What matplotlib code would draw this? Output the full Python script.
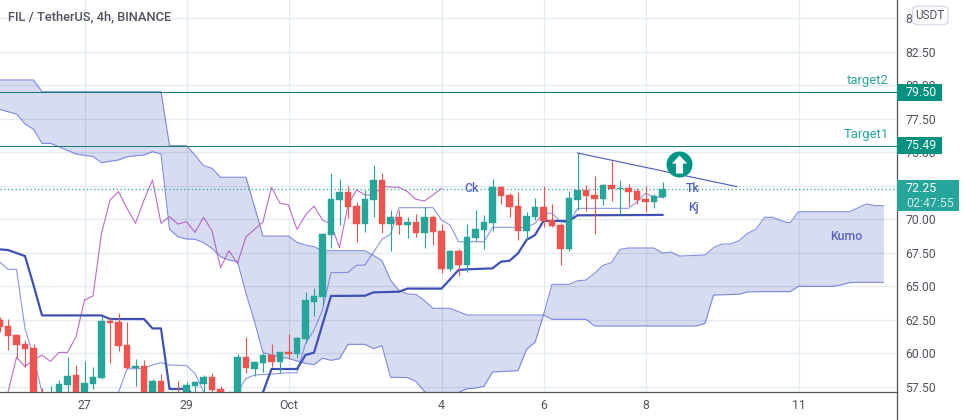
import numpy as np
from matplotlib import pyplot as plt
from matplotlib.patches import FancyBboxPatch, Rectangle
from matplotlib.lines import Line2D

plt.rcParams['font.family'] = ['Roboto', 'DejaVu Sans']

W, H = 964, 420
AX_R, AX_B = 896.5, 392.3

# candles, bar index 0 is the 27th, one bar is 4h
first_bar = -10
opens = [62.47, 62.03, 61.36, 60.68, 60.39, 56.9, 56.2, 56.8, 57.62, 58.37, 56.9, 57.70, 58.15, 62.40, 62.33, 60.61,
         58.89, 59.04, 56.7, 57.92, 56.8, 57.0, 56.7, 57.55, 57.70, 58.22, 57.33, 56.7, 57.0, 59.71, 58.82, 59.27,
         59.86, 59.34, 60.09, 59.94, 61.06, 63.82, 64.19, 68.82, 71.43, 72.03, 70.98, 69.64, 71.43, 72.92, 69.64, 70.16,
         69.57, 69.79, 68.97, 70.16, 69.12, 66.28, 67.63, 66.58, 68.60, 69.19, 69.72, 72.40, 71.81, 70.98, 69.12, 70.16,
         70.91, 69.94, 69.57, 67.78, 71.44, 72.18, 71.81, 71.51, 72.56, 72.26, 72.33, 72.11, 71.51, 71.29, 71.66]
highs = [62.7, 62.52, 61.43, 60.98, 60.68, 57.38, 57.55, 58.0, 59.69, 59.12, 59.42, 58.97, 62.77, 62.67, 63.0, 62.33,
         59.56, 59.49, 58.07, 58.44, 57.0, 57.92, 57.85, 57.92, 58.37, 58.52, 57.55, 57.18, 59.94, 61.21, 59.42, 60.01,
         60.68, 60.09, 61.43, 61.21, 64.56, 64.86, 68.97, 73.45, 73.0, 72.48, 71.28, 72.18, 74.04, 73.45, 70.69, 70.69,
         70.16, 70.39, 70.91, 70.31, 69.64, 67.70, 67.78, 69.64, 70.69, 70.31, 73.0, 72.48, 71.95, 72.03, 70.54, 71.58,
         72.48, 71.13, 69.72, 72.11, 74.92, 72.56, 73.23, 72.63, 74.37, 72.93, 72.63, 72.33, 72.48, 71.88, 72.78]
lows = [61.6, 60.24, 59.61, 58.99, 56.2, 56.3, 56.0, 56.5, 56.9, 56.6, 56.7, 57.33, 58.07, 59.27, 60.16, 58.82,
        57.55, 56.6, 56.5, 56.5, 56.0, 56.0, 56.3, 56.9, 56.9, 56.9, 56.5, 56.4, 56.8, 58.52, 58.30, 58.59,
        58.97, 58.52, 59.56, 59.64, 60.73, 62.77, 63.52, 67.88, 69.57, 70.09, 68.30, 69.04, 70.16, 68.97, 67.63, 68.90,
        68.60, 68.67, 67.85, 68.07, 65.98, 66.1, 65.76, 66.06, 68.37, 67.78, 69.12, 71.13, 70.16, 68.45, 68.52, 69.94,
        69.42, 69.42, 66.58, 67.66, 70.69, 70.62, 68.90, 71.06, 71.36, 70.39, 70.99, 71.14, 70.54, 70.84, 71.59]
closes = [61.98, 61.28, 60.61, 60.31, 56.5, 56.5, 56.9, 57.70, 58.30, 56.9, 57.77, 58.22, 62.40, 62.25, 60.53, 58.89,
          59.04, 56.9, 57.92, 56.8, 56.2, 56.4, 57.62, 57.85, 58.22, 57.25, 56.9, 57.0, 59.71, 58.89, 59.34, 59.86,
          59.34, 60.09, 59.94, 61.13, 63.97, 64.27, 68.89, 71.51, 72.03, 70.91, 69.64, 71.51, 72.92, 69.64, 70.16, 69.57,
          69.79, 68.97, 70.16, 69.04, 66.28, 67.63, 66.58, 68.67, 69.27, 69.79, 72.40, 71.73, 70.91, 69.12, 70.24, 70.91,
          69.87, 69.49, 67.78, 71.59, 72.18, 71.73, 71.51, 72.56, 72.26, 72.30, 72.03, 71.44, 71.29, 71.73, 72.25]

kijun_x = [-10, -9, -7, -6, -5, 2, 3, 7, 8, 9, 10, 12, 13, 20, 21, 22, 25, 26, 27, 29, 33, 34, 37, 38, 42, 43, 44, 45,
           48, 49, 50, 51, 52, 53, 54, 57, 58, 68]
kijun = [67.75, 67.70, 67.25, 65.09, 62.82, 62.82, 62.55, 62.55, 61.85, 61.85, 57.33, 57.33, 56.8, 56.8, 57.08, 58.82,
         58.82, 59.87, 60.04, 64.27, 64.29, 64.54, 64.59, 64.82, 64.82, 65.51, 66.21, 66.26,
         66.33, 66.83, 66.90, 67.45, 68.45, 68.82, 69.87, 69.87, 70.29, 70.32]

tenkan_x = [-10, -9, -8, -7, -6, -5, -4, 3, 4, 5, 7, 8, 9, 10, 12, 13, 14, 15, 17, 18, 19, 20, 22, 24, 25, 26, 27, 28, 29,
            31, 32, 33, 35, 36, 37, 41, 42, 43, 44, 47, 48, 52, 53, 54, 55, 56, 57, 58, 64, 65, 66, 67, 68]
tenkan = [66.83, 66.26, 66.26, 61.85, 59.74, 57.08, 56.5, 56.5, 57.08, 58.82, 58.87, 59.12, 59.29, 59.12, 59.07, 58.50,
          57.13, 56.5, 56.5, 57.08, 58.12, 58.37, 58.44, 58.54, 58.54, 60.73, 61.73, 63.22, 66.01,
          66.03, 66.56, 66.58, 68.50, 68.87, 70.86, 70.86, 69.94, 69.57, 68.32, 68.32, 69.39, 69.39, 69.69, 70.44, 70.44,
          69.82, 69.69, 70.81, 70.81, 71.31, 71.93, 71.68, 71.63]

chikou_x = list(range(-9, 43))
chikou = [57.08, 59.69, 59.0, 59.49, 59.86, 59.39, 60.06, 60.06, 61.23, 63.97, 64.27, 68.94, 71.43, 72.06, 70.81, 69.69,
          71.43, 72.93, 69.69, 70.19, 69.64, 69.81, 69.02, 70.14, 69.14, 66.38, 67.65, 66.70, 68.69, 69.24, 69.81, 72.38,
          71.2, 71.06, 69.24, 70.31, 70.98, 69.94, 69.64, 67.88, 71.06, 72.18, 71.81, 71.81, 72.43, 72.40, 72.38, 72.05,
          71.48, 71.36, 71.81, 72.30]

kumo_x = list(range(-10, 95))
span_a = [78.20, 78.02, 77.85, 77.11, 76.71, 75.66, 75.66, 75.4, 75.13, 74.87, 74.77, 74.67, 74.22, 74.32, 74.42, 74.67,
          74.73, 74.79, 75.04, 74.87, 69.24, 68.69, 68.52, 68.5, 68.25, 67.82, 67.2, 66.95, 66.83, 64.46, 62.35, 60.04,
          59.86, 59.73, 59.61, 59.42, 59.24, 59.15, 59.62, 59.47, 59.59, 60.66, 60.66, 60.66, 60.34, 60.56, 58.2, 58.19,
          58.18, 57.88, 57.13, 56.8, 56.7, 56.8, 57.08, 57.35, 57.40, 57.53, 58.60, 58.63, 58.67, 58.70, 60.29, 60.81,
          62.85, 65.14, 65.14, 65.14, 65.41, 65.46, 65.96, 66.56, 66.76, 67.75, 67.85, 67.85, 67.85, 67.85, 67.48, 67.55,
          67.25, 67.28, 67.30, 67.33, 67.88, 68.15, 68.15, 68.40, 68.95, 69.25, 70.14, 70.14, 69.87, 69.72, 70.56, 70.56,
          70.56, 70.56, 70.56, 70.56, 70.56, 70.85, 71.14, 71.01, 71.01]
span_b = [80.39, 80.39, 80.39, 80.39, 80.39, 79.52, 79.52, 79.52, 79.52, 79.52, 79.52, 79.52, 79.52, 79.52, 79.52, 79.52,
          79.52, 79.52, 79.52, 79.52, 75.49, 75.49, 75.49, 74.79, 74.0, 73.80, 73.13, 73.13, 73.13, 73.13, 70.94, 68.74,
          68.74, 68.74, 68.74, 68.27, 68.07, 67.95, 67.65, 67.65, 67.65, 67.65, 67.65, 67.65, 67.3, 66.91, 65.46, 64.67,
          64.42, 64.39, 63.92, 63.35, 63.35, 63.35, 63.1, 62.85, 62.85, 62.85, 62.85, 62.85, 62.85, 62.85, 62.85, 62.85,
          62.85, 62.53, 62.53, 62.53, 62.53, 62.53, 62.03, 62.03, 62.03, 62.03, 62.03, 62.03, 62.03, 62.03, 62.03, 62.03,
          62.03, 62.03, 62.03, 62.23, 64.34, 64.36, 64.38, 64.40, 64.57, 64.59, 64.59, 64.59, 64.59, 64.59, 64.99, 64.99,
          64.99, 64.99, 64.99, 65.09, 65.27, 65.29, 65.29, 65.29, 65.29]

target1, target2, last_price = 75.49, 79.50, 72.25
trend_x = [58, 76.76]
trend_y = [74.94, 72.43]
signal_x, signal_y = 69.9, 74.12

price_ticks = [57.5, 60, 62.5, 65, 67.5, 70, 72.5, 75, 77.5, 80, 82.5, 85]
date_ticks = [0, 12, 24, 42, 54, 66, 84]
date_labels = ['27', '29', 'Oct', '4', '6', '8', '11']

GREEN, RED = '#26a69a', '#ef5350'
TEAL = '#1b7f70'
BLUE = '#3f51b5'
EDGE = '#5c6bd8'
GRID = '#e4ebf3'
AXIS = '#50535e'


def fx(x):
    return x / W


def fy(y):
    return 1 - y / H


fig = plt.figure(figsize=(W / 100, H / 100), dpi=100)
ax = fig.add_axes([0, 1 - AX_B / H, AX_R / W, AX_B / H])
ax.set_xlim((0 - 84.5) / 8.5, (AX_R - 84.5) / 8.5)
ax.set_ylim(82.5 - (AX_B - 51.7) / 13.4, 82.5 + 51.7 / 13.4)
ax.set_axisbelow(True)
ax.grid(True, color=GRID, lw=1.0)

ax.set_xticks(date_ticks, date_labels)
ax.yaxis.tick_right()
ax.set_yticks(price_ticks, [f'{p:.2f}' for p in price_ticks])
ax.tick_params(axis='both', length=0, labelsize=8.8, labelcolor=AXIS)
ax.tick_params(axis='x', pad=5)
ax.tick_params(axis='y', pad=6.5)
for side in ['left', 'top']:
    ax.spines[side].set_visible(False)
for side in ['bottom', 'right']:
    ax.spines[side].set_color(AXIS)
    ax.spines[side].set_linewidth(0.9)

ax.fill_between(kumo_x, span_a, span_b, color=BLUE, alpha=0.2, lw=0, zorder=1)
ax.plot(kumo_x, span_a, color=EDGE, alpha=0.75, lw=0.8, zorder=2)
ax.plot(kumo_x, span_b, color=EDGE, alpha=0.75, lw=0.8, zorder=2)
ax.plot(tenkan_x, tenkan, color=EDGE, alpha=0.7, lw=0.8, zorder=2)
ax.plot(chikou_x, chikou, color='#ab47bc', alpha=0.8, lw=0.8, zorder=2)
ax.plot(kijun_x, kijun, color=BLUE, lw=1.6, zorder=3)

ax.axhline(target2, color=TEAL, lw=0.75, zorder=3)
ax.axhline(target1, color=TEAL, lw=0.75, zorder=3)
ax.axhline(last_price, color=GREEN, lw=0.9, ls=(0, (1, 2)), zorder=3)

bars = np.arange(first_bar, first_bar + len(opens))
colors = [GREEN if c >= o else RED for o, c in zip(opens, closes)]
ax.vlines(bars, lows, highs, color=colors, lw=0.8, zorder=4)
ax.bar(bars, np.subtract(closes, opens), bottom=opens, width=0.8, color=colors, lw=0.3, edgecolor=colors, zorder=4)

ax.plot(trend_x, trend_y, color='#5061c8', lw=0.85, zorder=5)
ax.scatter([signal_x], [signal_y], s=350, color='#009485', lw=0, zorder=6)
arrow = [(0, 1), (0.85, 0.1), (0.4, 0.1), (0.4, -1), (-0.4, -1), (-0.4, 0.1), (-0.85, 0.1)]
ax.scatter([signal_x], [signal_y], s=170, marker=arrow, color='white', lw=0, zorder=7)

# text and price labels placed in pixels
fig.text(fx(8), fy(16.5), 'FIL / TetherUS, 4h, BINANCE', fontsize=9.3, color=AXIS, fontweight='medium', va='center')
fig.text(fx(888.5), fy(80.5), 'target2', fontsize=9.4, color='#26a69a', ha='right', va='center', zorder=6)
fig.text(fx(888.5), fy(134.5), 'Target1', fontsize=9.4, color='#26a69a', ha='right', va='center', zorder=6)
for label, x, y in [('Ck', 472, 188.5), ('Tk', 693, 189), ('Kj', 693, 208), ('Kumo', 846, 237)]:
    fig.text(fx(x), fy(y), label, fontsize=8.8, color='#5565c4', fontweight='medium', ha='center', va='center', zorder=6)

for value, top in [(target2, 83.5), (target1, 137)]:
    fig.add_artist(Rectangle((fx(896.5), fy(top + 17)), fx(45.5), 17 / H, transform=fig.transFigure, color='#00917f',
                             lw=0, zorder=5))
    fig.text(fx(906), fy(top + 8.5), f'{value:.2f}', fontsize=8.9, color='white', va='center', zorder=6)
fig.add_artist(Rectangle((fx(896.5), fy(211)), fx(62.5), 31 / H, transform=fig.transFigure, color=GREEN, lw=0, zorder=5))
fig.text(fx(906), fy(189), f'{last_price:.2f}', fontsize=8.9, color='white', va='center', zorder=6)
fig.text(fx(906), fy(203), '02:47:55', fontsize=8.9, color='#c8e8e4', va='center', zorder=6)

fig.add_artist(FancyBboxPatch((fx(912.5), fy(24.8)), fx(35.5), 18.6 / H, boxstyle='round,pad=0,rounding_size=0.008',
                              transform=fig.transFigure, fc='white', ec='#d3daeb', lw=0.9, zorder=5,
                              mutation_aspect=H / W * 2))
fig.text(fx(930), fy(15.5), 'USDT', fontsize=8.5, color=AXIS, ha='center', va='center', zorder=6)

# price scale border runs on below the time scale
fig.add_artist(Line2D([fx(AX_R), fx(AX_R)], [fy(AX_B), 0], transform=fig.transFigure, color=AXIS, lw=0.9))

fig.savefig('out.png', dpi=100)
